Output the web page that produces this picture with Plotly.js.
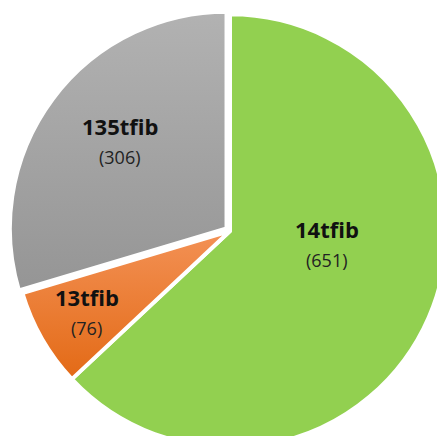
<!DOCTYPE html>
<html>
<head>
<meta charset="utf-8">
<script src="https://cdn.plot.ly/plotly-3.0.1.min.js"></script>
<style>
html, body { margin: 0; padding: 0; overflow: hidden; background: #ffffff; width: 437px; height: 436px; }
#chart { position: absolute; left: 9px; top: 10px; width: 442px; height: 442px; }
</style>
</head>
<body>
<div id="chart"></div>
<script>
const categories = ["14tfib", "13tfib", "135tfib"];
const counts = [651, 76, 306];
const sliceColors = ["#92D050", "#ED7D31", "#A5A5A5"];
const gradTop = ["#92D050", "#F39155", "#B2B2B2"];
const gradBottom = ["#92D050", "#E36A16", "#959595"];

// label placement (polar, relative to each slice's mid-angle)
const labelAngleShift = [-16, 0.4, 2.6];
const labelRadiusFrac = [0.45, 0.76, 0.655];

const SIZE = 442, PULL = 0.02;
const radiusPx = SIZE / 2 / (1 + PULL);

const total = counts.reduce((a, b) => a + b, 0);
let cum = 0;
const annotations = [];
counts.forEach(function (v, i) {
  const mid = (cum + v / 2) / total * 360;
  cum += v;
  const ang = (mid + labelAngleShift[i]) * Math.PI / 180;
  const rr = labelRadiusFrac[i] * radiusPx;
  const px = Math.sin(ang) * rr;
  const py = Math.cos(ang) * rr;
  const x = 0.5 + px / SIZE;
  const y = 0.5 + py / SIZE;
  annotations.push({
    xref: "paper", yref: "paper", x: x, y: y, yshift: 15,
    text: "<b>" + categories[i] + "</b>", showarrow: false,
    xanchor: "center", yanchor: "middle",
    font: { family: "'Open Sans', sans-serif", size: 22, color: "#111111" }
  });
  annotations.push({
    xref: "paper", yref: "paper", x: x, y: y, yshift: -16,
    text: "(" + v + ")", showarrow: false,
    xanchor: "center", yanchor: "middle",
    font: { family: "'Open Sans', sans-serif", size: 18, color: "#222222" }
  });
});

const trace = {
  type: "pie",
  labels: categories,
  values: counts,
  sort: false,
  direction: "clockwise",
  rotation: 0,
  pull: [0, 0, PULL],
  marker: { colors: sliceColors, line: { color: "#ffffff", width: 4 } },
  textinfo: "none",
  hoverinfo: "none",
  showlegend: false
};

const layout = {
  width: SIZE,
  height: SIZE,
  margin: { l: 0, r: 0, t: 0, b: 0, pad: 0 },
  paper_bgcolor: "rgba(0,0,0,0)",
  plot_bgcolor: "rgba(0,0,0,0)",
  showlegend: false,
  annotations: annotations
};

Plotly.newPlot("chart", [trace], layout, { staticPlot: true, displayModeBar: false }).then(function (gd) {
  const svg = gd.querySelector("svg.main-svg");
  const ns = "http://www.w3.org/2000/svg";
  let defs = svg.querySelector("defs");
  if (!defs) { defs = document.createElementNS(ns, "defs"); svg.insertBefore(defs, svg.firstChild); }
  const paths = gd.querySelectorAll("g.slice path.surface");
  paths.forEach(function (p, i) {
    const id = "sliceGrad" + i;
    const lg = document.createElementNS(ns, "linearGradient");
    lg.setAttribute("id", id);
    lg.setAttribute("x1", "0"); lg.setAttribute("y1", "0");
    lg.setAttribute("x2", "0"); lg.setAttribute("y2", "1");
    const s1 = document.createElementNS(ns, "stop");
    s1.setAttribute("offset", "0"); s1.setAttribute("stop-color", gradTop[i]);
    const s2 = document.createElementNS(ns, "stop");
    s2.setAttribute("offset", "1"); s2.setAttribute("stop-color", gradBottom[i]);
    lg.appendChild(s1); lg.appendChild(s2);
    defs.appendChild(lg);
    p.style.fill = "url(#" + id + ")";
  });
});
</script>
</body>
</html>
